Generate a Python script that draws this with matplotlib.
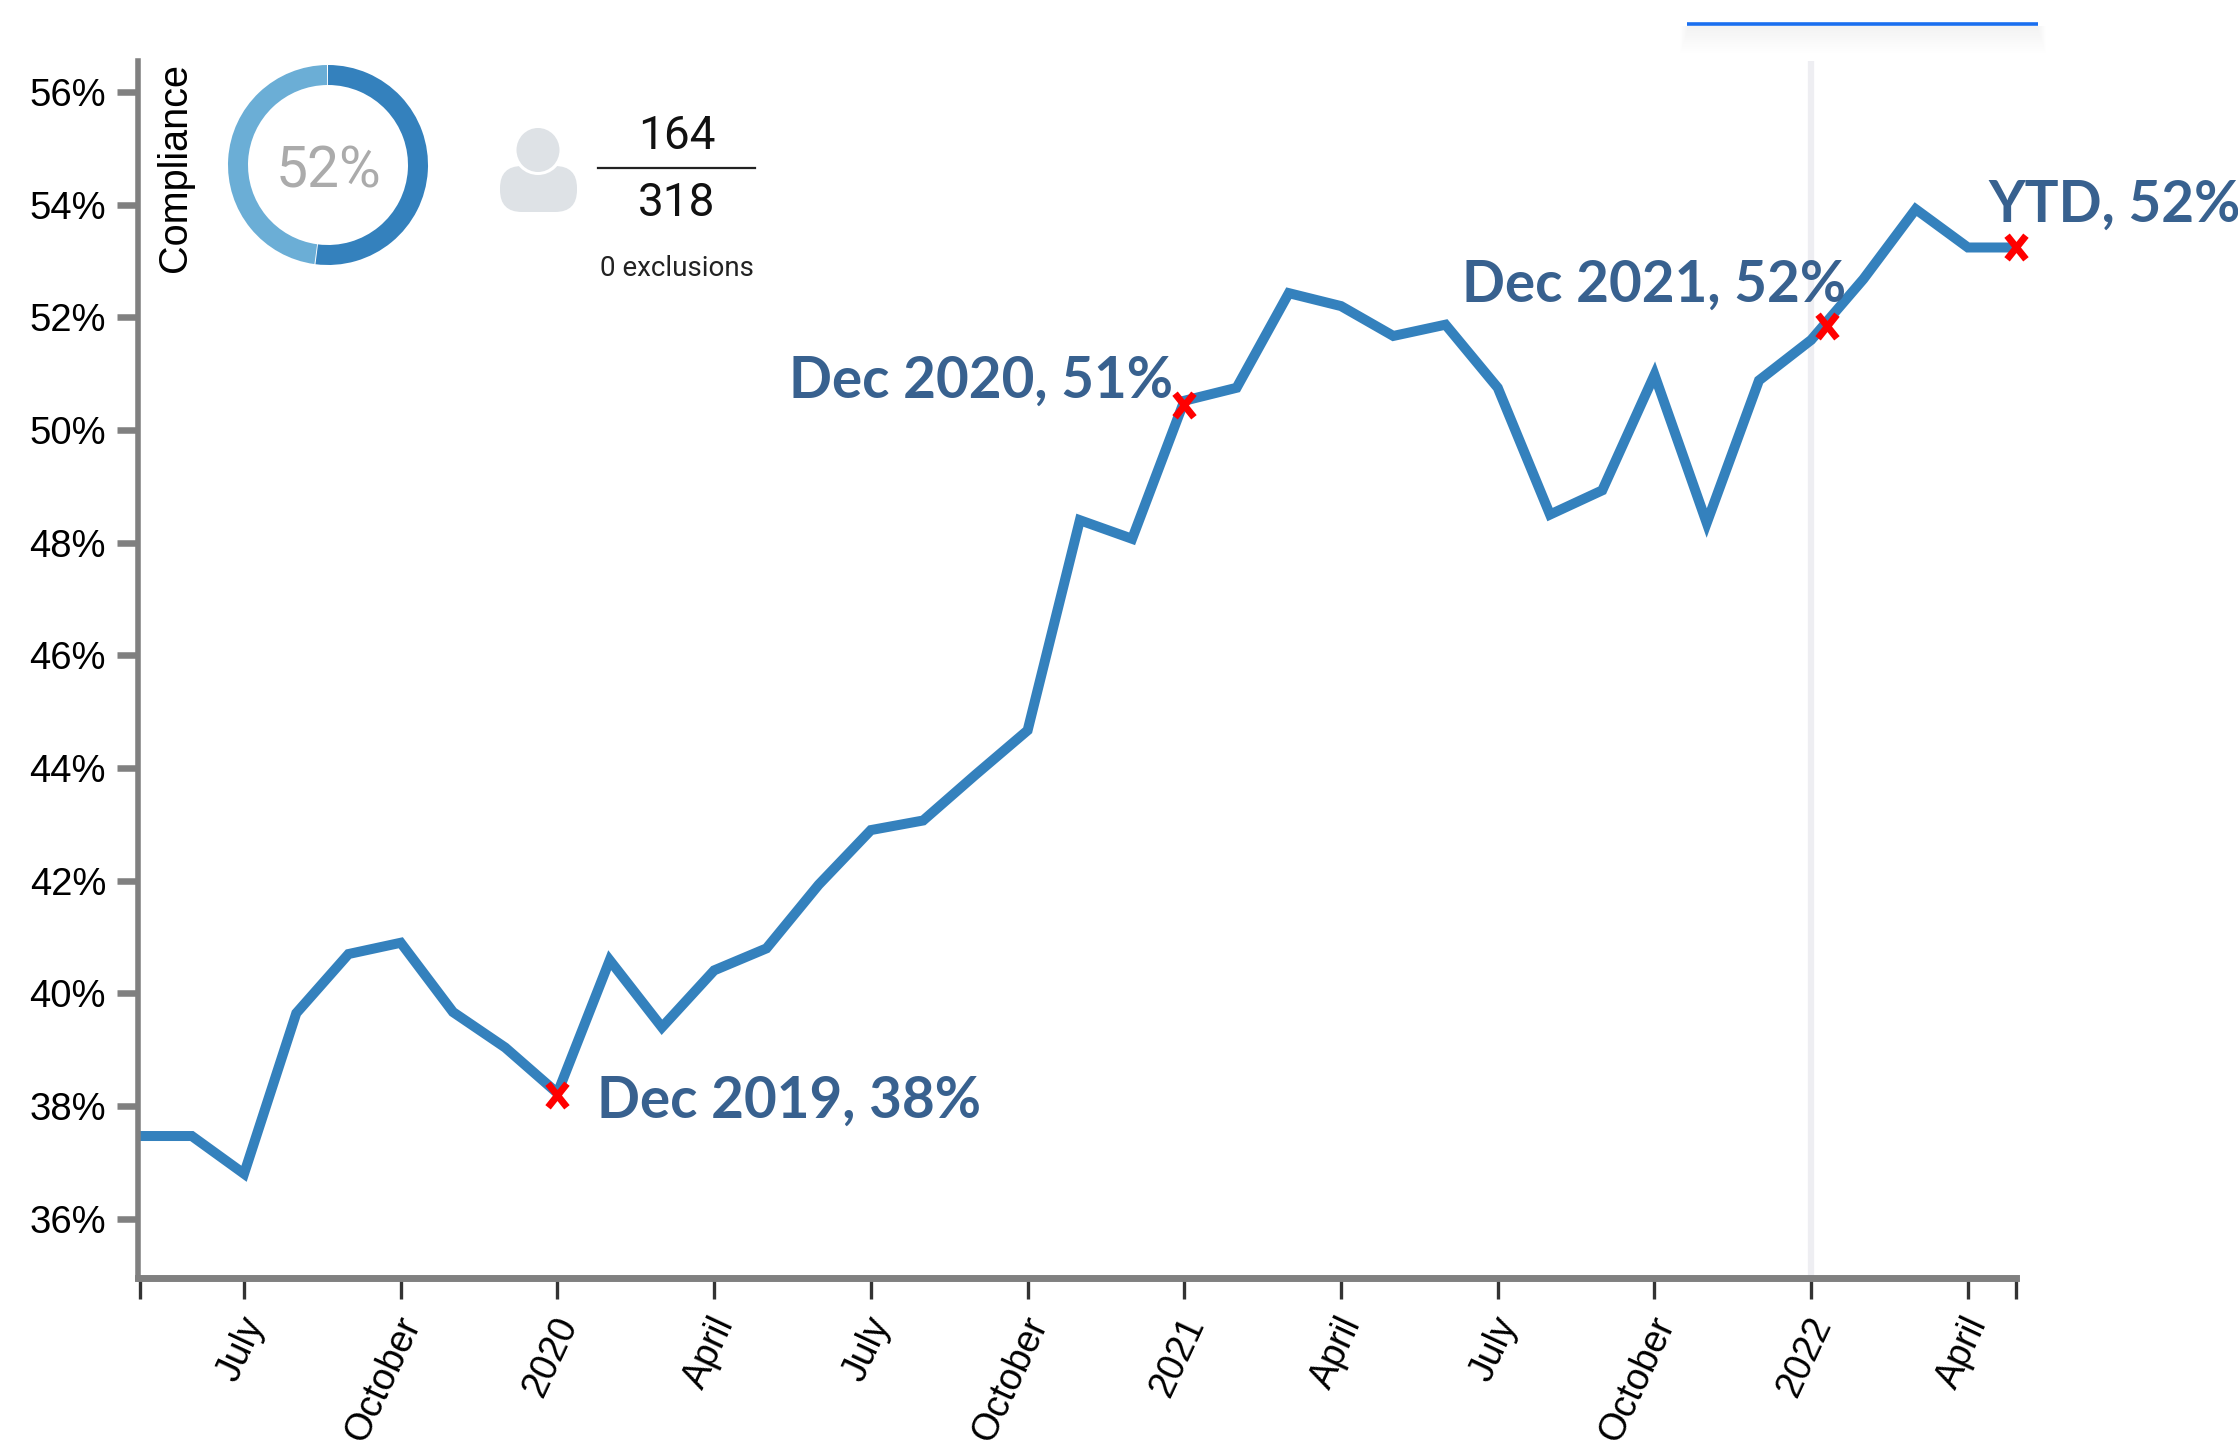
#!/usr/bin/env python3
"""
Compliance trend by month, with the summary donut and count in the top corner.
"""

import matplotlib
matplotlib.use('Agg')
import matplotlib.pyplot as plt
import matplotlib.ticker as mticker
from matplotlib.patches import Wedge, Ellipse, FancyBboxPatch, Rectangle
from matplotlib.path import Path

# Monthly compliance, May 2019 onwards (index = months since May 2019)
# the last period is a part month, so it sits just short of a full step
months = list(range(36)) + [35.93]
compliance = [37.47, 37.47, 36.8, 39.65, 40.7, 40.9, 39.67, 39.04, 38.23, 40.59,
              39.4, 40.41, 40.8, 41.93, 42.9, 43.07, 43.88, 44.67, 48.4, 48.07,
              50.52, 50.75, 52.43, 52.2, 51.67, 51.87, 50.75, 48.5, 48.93, 50.98,
              48.35, 50.88, 51.6, 52.68, 53.92, 53.24, 53.24]

# Red crosses for the called-out periods
cross_x = [8, 20, 32.3, 35.93]
cross_y = [38.2, 50.45, 51.85, 53.25]

x_ticks = [0, 2, 5, 8, 11, 14, 17, 20, 23, 26, 29, 32, 35, 35.93]
x_labels = ['', 'July', 'October', '2020', 'April', 'July', 'October', '2021',
            'April', 'July', 'October', '2022', 'April', '']
y_ticks = [36, 38, 40, 42, 44, 46, 48, 50, 52, 54, 56]

donut_share = [52, 48]
complied = 164
total = 318

# Colors
LINE_BLUE = '#3481BD'
LIGHT_BLUE = '#6BAED6'
AXIS_GRAY = '#808080'
NOTE_BLUE = '#38618F'
ICON_GRAY = '#DEE2E6'

W, H = 2238, 1440
fig = plt.figure(figsize=(W / 100, H / 100), dpi=100)

# Axes box placed in pixels
left, right, top, bottom = 138, 2016.5, 61, 1278
ax = fig.add_axes([left / W, 1 - bottom / H, (right - left) / W, (bottom - top) / H])

# Tall narrow cross, like a bold letter x
tall_x = Path([(-0.8, -1), (0.8, 1), (-0.8, 1), (0.8, -1)],
              [Path.MOVETO, Path.LINETO, Path.MOVETO, Path.LINETO])

ax.axvline(32, color='#EEEEF2', linewidth=4.5, zorder=1)
ax.plot(months, compliance, color=LINE_BLUE, linewidth=7.2,
        solid_joinstyle='miter', zorder=2)
ax.plot(cross_x, cross_y, linestyle='none', marker=tall_x, color='red',
        markersize=17, markeredgewidth=5, zorder=3, clip_on=False)

ax.set_xlim(-0.03, 35.93)
ax.set_ylim(34.95, 56.55)
ax.set_xticks(x_ticks)
ax.set_xticklabels([])
# Month labels sit a little left of their ticks, so place them by offset
for tx, lab in zip(x_ticks, x_labels):
    if lab:
        ax.annotate(lab, (tx, 0), xycoords=('data', 'axes fraction'), xytext=(-4, -24),
                    textcoords='offset points', rotation=65, ha='right', va='top',
                    rotation_mode='anchor', fontsize=27, family='Liberation Sans',
                    annotation_clip=False)
ax.set_yticks(y_ticks)
ax.yaxis.set_major_formatter(mticker.FuncFormatter(lambda v, _: f'{v:.0f}%'))
for lbl in ax.get_yticklabels():
    lbl.set_fontsize(27.5)
    lbl.set_family('Liberation Sans')

ax.tick_params(axis='y', length=15, width=4.7, color=AXIS_GRAY, pad=8)
ax.tick_params(axis='x', length=15, width=2.4, color='#333333', pad=9)

ax.spines['top'].set_visible(False)
ax.spines['right'].set_visible(False)
ax.spines['left'].set_color(AXIS_GRAY)
ax.spines['left'].set_linewidth(4)
ax.spines['bottom'].set_color(AXIS_GRAY)
ax.spines['bottom'].set_linewidth(5)

# Overlay in pixel coordinates for the summary block and callouts
over = fig.add_axes([0, 0, 1, 1])
over.set_xlim(0, W)
over.set_ylim(H, 0)
over.axis('off')
over.patch.set_alpha(0)

over.text(175, 167, 'Compliance', rotation=90, ha='center', va='center',
          fontsize=28.5, family='Liberation Sans', color='black')

# Donut (y axis is flipped, so angles run clockwise from the top at -90)
split = -90 + 360 * donut_share[0] / sum(donut_share)
over.add_patch(Wedge((328, 165), 100, -90, split, width=20, color=LINE_BLUE, lw=0))
over.add_patch(Wedge((328, 165), 100, split + 0.6, 269.4, width=20, color=LIGHT_BLUE, lw=0))
over.text(329, 172, '52%', ha='center', va='center', fontsize=41,
          family='Roboto', color='#ABABAB')

# Person icon
over.add_patch(FancyBboxPatch((512, 178), 53, 22, boxstyle='round,pad=12,rounding_size=22',
                              facecolor=ICON_GRAY, edgecolor='none'))
over.add_patch(Ellipse((538, 150), 50, 50, facecolor='white', edgecolor='none'))
over.add_patch(Ellipse((538, 150), 43, 44, facecolor=ICON_GRAY, edgecolor='none'))

over.text(677, 136, str(complied), ha='center', va='center', fontsize=33,
          family='Roboto', color='#111111')
over.plot([598, 755], [168, 168], color='#222222', linewidth=1.6)
over.text(677, 203, str(total), ha='center', va='center', fontsize=33,
          family='Roboto', color='#111111')
over.text(677, 269, '0 exclusions', ha='center', va='center', fontsize=20,
          family='Roboto', color='#222222')

# Blue strip at the top with its soft shadow
for i in range(12):
    over.add_patch(Rectangle((1688 - i * 0.7, 26), 350 + 1.4 * i, 3 + i * 2.2,
                             facecolor='black', alpha=0.0035, edgecolor='none'))
over.plot([1687, 2038], [24, 24], color='#1A6FEF', linewidth=2.6, solid_capstyle='butt')

# Callouts
notes = ['Dec 2019, 38%', 'Dec 2020, 51%', 'Dec 2021, 52%', 'YTD, 52%']
note_x = [597, 789, 1462, 1988]
note_y = [1101, 381, 285, 205]
for t, nx, ny in zip(notes, note_x, note_y):
    over.text(nx, ny, t, ha='left', va='center', fontsize=40.8, fontweight='bold',
              family='Lato', color=NOTE_BLUE)

fig.savefig('out.png', dpi=100)
plt.close(fig)
